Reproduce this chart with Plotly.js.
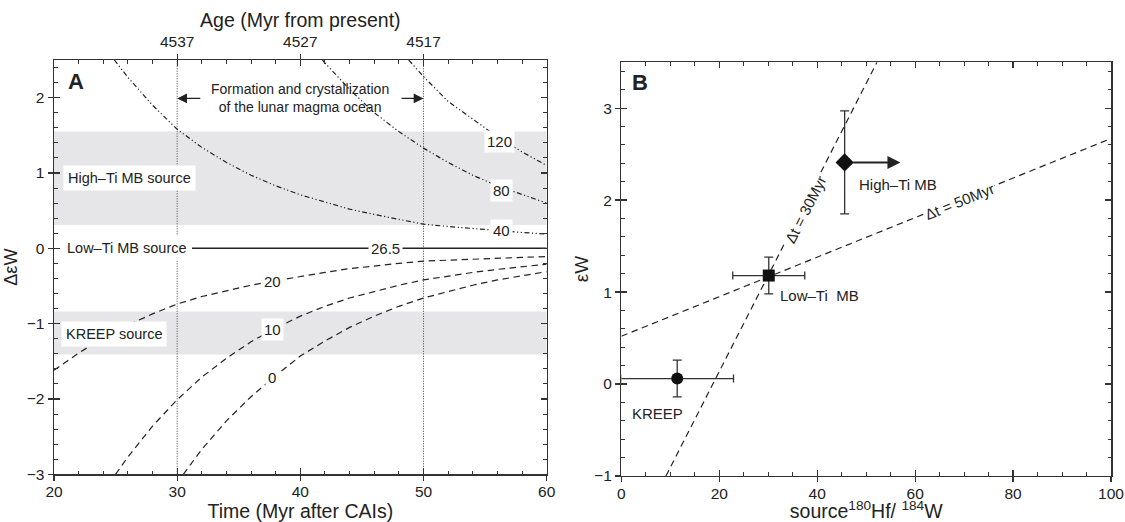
<!DOCTYPE html>
<html>
<head>
<meta charset="utf-8">
<script src="https://cdn.plot.ly/plotly-3.0.1.min.js"></script>
<style>
html,body{margin:0;padding:0;background:#fff;}
#chart{width:1125px;height:522px;}
</style>
</head>
<body>
<div id="chart"></div>
<script>
// ---------------- Panel A data ----------------
// dash-dot-dot curves (source Hf/W = 120, 80, 40)
const curve120T = [48.8, 50, 52, 54, 56, 58, 60];
const curve120Y = [2.50, 2.28, 1.95, 1.72, 1.48, 1.28, 1.10];
const curve80T = [41.8, 42, 44, 46, 48, 50, 52, 54, 56, 58, 60];
const curve80Y = [2.50, 2.46, 2.11, 1.80, 1.55, 1.33, 1.14, 0.97, 0.83, 0.71, 0.60];
const curve40T = [24.9, 26, 28, 30, 32, 34, 36, 38, 40, 42, 44, 46, 48, 50, 52, 54, 56, 58, 60];
const curve40Y = [2.50, 2.27, 1.90, 1.58, 1.34, 1.14, 0.97, 0.83, 0.71, 0.61, 0.52, 0.45, 0.38, 0.32, 0.29, 0.26, 0.23, 0.21, 0.19];
// solid reference line (26.5)
const curve265T = [31.2, 60];
const curve265Y = [0, 0];
// dashed curves (20, 10, 0)
const curve20T = [20, 22, 24, 26, 28, 30, 32, 34, 36, 38, 40, 42, 44, 46, 48, 50, 52, 54, 56, 58, 60];
const curve20Y = [-1.62, -1.39, -1.19, -1.02, -0.87, -0.74, -0.64, -0.56, -0.49, -0.43, -0.37, -0.32, -0.27, -0.23, -0.20, -0.17, -0.155, -0.14, -0.13, -0.12, -0.11];
const curve10T = [25, 26, 28, 30, 32, 34, 36, 38, 40, 42, 44, 46, 48, 50, 52, 54, 56, 58, 60];
const curve10Y = [-3.0, -2.77, -2.36, -2.01, -1.71, -1.46, -1.24, -1.06, -0.90, -0.77, -0.66, -0.57, -0.49, -0.42, -0.37, -0.32, -0.28, -0.24, -0.21];
const curve0T = [30.5, 32, 34, 36, 38, 40, 42, 44, 46, 48, 50, 52, 54, 56, 58, 60];
const curve0Y = [-3.0, -2.67, -2.29, -1.97, -1.69, -1.43, -1.23, -1.05, -0.90, -0.77, -0.66, -0.57, -0.49, -0.42, -0.36, -0.31];

const curveLabelText = ['120', '80', '40', '26.5', '20', '10', '0'];
const curveLabelX = [56.15, 56.35, 56.3, 46.9, 37.7, 37.7, 37.7];
const curveLabelY = [1.42, 0.77, 0.23, 0, -0.44, -1.08, -1.72];

const sourceLabelText = ['High–Ti MB source', 'Low–Ti MB source', 'KREEP source'];
const sourceLabelX = [26.1, 25.95, 24.9];
const sourceLabelY = [0.94, 0, -1.14];

const highTiBand = [0.31, 1.55];
const kreepBand = [-1.41, -0.84];
const magmaOceanBounds = [30, 50];
const magmaArrowTails = [32.0, 48.1];
const magmaArrowY = 1.99;

const ageTickPos = [30, 40, 50];
const ageTickText = ['4537', '4527', '4517'];

// ---------------- Panel B data ----------------
const sampleNames = ['KREEP', 'Low–Ti  MB', 'High–Ti MB'];
const sampleHfW = [11.4, 30.1, 45.6];
const sampleHfWErr = [11.5, 7.35, 0];
const sampleEpsW = [0.06, 1.18, 2.41];
const sampleEpsWErr = [0.20, 0.20, 0.56];
const sampleSymbols = ['circle', 'square', 'diamond'];
const sampleSizes = [12, 12, 14];
const sampleLabelX = [7.3, 40.4, 56.5];
const sampleLabelY = [-0.32, 0.96, 2.17];
const highTiLowerLimitTo = 57.0;

const iso30X = [9.1, 52.2];
const iso30Y = [-1, 3.5];
const iso50X = [0, 100];
const iso50Y = [0.52, 2.67];
const isoLabelText = ['Δt = 30Myr', 'Δt = 50Myr'];
const isoLabelX = [37.6, 69.0];
const isoLabelY = [1.90, 1.99];
const isoLabelAngle = [-63, -22];

// ---------------- build ----------------
const INK = '#222';
const AX = '#333';
const FONT = 'Liberation Sans, Arial, Helvetica, sans-serif';
const ddot = '5px,2.5px,1.2px,2.5px,1.2px,2.5px';
const dash = '6.5px,4.5px';

function line(x, y, dashStyle, width, xa, ya) {
  return {type: 'scatter', mode: 'lines', x: x, y: y, xaxis: xa, yaxis: ya,
    line: {color: INK, width: width, dash: dashStyle}, hoverinfo: 'skip', showlegend: false};
}
function empty(xa, ya) {
  return {type: 'scatter', mode: 'markers', x: [], y: [], xaxis: xa, yaxis: ya, hoverinfo: 'skip', showlegend: false};
}

const traces = [
  empty('x3', 'y'), empty('x4', 'y'), empty('x', 'y3'), empty('x5', 'y2'), empty('x2', 'y4'),
  line(curve120T, curve120Y, ddot, 1.2, 'x', 'y'),
  line(curve80T, curve80Y, ddot, 1.2, 'x', 'y'),
  line(curve40T, curve40Y, ddot, 1.2, 'x', 'y'),
  line(curve265T, curve265Y, 'solid', 1.5, 'x', 'y'),
  line(curve20T, curve20Y, dash, 1.2, 'x', 'y'),
  line(curve10T, curve10Y, dash, 1.2, 'x', 'y'),
  line(curve0T, curve0Y, dash, 1.2, 'x', 'y'),
  line(iso30X, iso30Y, dash, 1.2, 'x2', 'y2'),
  line(iso50X, iso50Y, dash, 1.2, 'x2', 'y2'),
  {
    type: 'scatter', mode: 'markers', x: sampleHfW, y: sampleEpsW, xaxis: 'x2', yaxis: 'y2',
    marker: {symbol: sampleSymbols, size: sampleSizes, color: '#111', opacity: 1, line: {width: 0}},
    error_x: {type: 'data', array: sampleHfWErr, visible: true, color: AX, thickness: 1.3, width: 4},
    error_y: {type: 'data', array: sampleEpsWErr, visible: true, color: AX, thickness: 1.3, width: 4.5},
    hoverinfo: 'skip', showlegend: false, opacity: 1
  }
];

const shapes = [
  {type: 'rect', xref: 'x', yref: 'y', x0: 20, x1: 60, y0: highTiBand[0], y1: highTiBand[1], fillcolor: '#e6e6e8', line: {width: 0}, layer: 'below'},
  {type: 'rect', xref: 'x', yref: 'y', x0: 20, x1: 60, y0: kreepBand[0], y1: kreepBand[1], fillcolor: '#e6e6e8', line: {width: 0}, layer: 'below'}
];
magmaOceanBounds.forEach(v => shapes.push({type: 'line', xref: 'x', yref: 'y', x0: v, x1: v, y0: -3, y1: 2.5,
  line: {color: '#444', width: 1, dash: '1px,1.5px'}, layer: 'below'}));

const annotations = [];
curveLabelText.forEach((t, i) => annotations.push({xref: 'x', yref: 'y', x: curveLabelX[i], y: curveLabelY[i], text: t,
  showarrow: false, bgcolor: '#fff', borderpad: 2, font: {size: 15, color: INK, family: FONT}}));
sourceLabelText.forEach((t, i) => annotations.push({xref: 'x', yref: 'y', x: sourceLabelX[i], y: sourceLabelY[i], text: t,
  showarrow: false, bgcolor: '#fff', borderpad: 4, font: {size: 14.5, color: INK, family: FONT}}));
annotations.push({xref: 'x', yref: 'y', x: 40, y: 2.0, text: 'Formation and crystallization<br>of the lunar magma ocean',
  showarrow: false, font: {size: 14, color: INK, family: FONT}});
magmaOceanBounds.forEach((v, i) => annotations.push({xref: 'x', yref: 'y', x: v, y: magmaArrowY, axref: 'x', ayref: 'y',
  ax: magmaArrowTails[i], ay: magmaArrowY, text: '', showarrow: true, arrowhead: 2, arrowsize: 1.4, arrowwidth: 1.4,
  arrowcolor: INK, standoff: 0}));
annotations.push({xref: 'x', yref: 'y', x: 21.75, y: 2.21, text: '<b>A</b>', showarrow: false, font: {size: 22, color: INK, family: FONT}});
annotations.push({xref: 'x2', yref: 'y2', x: 3.9, y: 3.28, text: '<b>B</b>', showarrow: false, font: {size: 22, color: INK, family: FONT}});
sampleNames.forEach((t, i) => annotations.push({xref: 'x2', yref: 'y2', x: sampleLabelX[i], y: sampleLabelY[i], text: t,
  showarrow: false, font: {size: 15, color: INK, family: FONT}}));
isoLabelText.forEach((t, i) => annotations.push({xref: 'x2', yref: 'y2', x: isoLabelX[i], y: isoLabelY[i], text: t,
  textangle: isoLabelAngle[i], showarrow: false, bgcolor: '#fff', borderpad: 1, font: {size: 15, color: INK, family: FONT}}));
annotations.push({xref: 'x2', yref: 'y2', x: highTiLowerLimitTo, y: sampleEpsW[2], axref: 'x2', ayref: 'y2',
  ax: sampleHfW[2], ay: sampleEpsW[2], text: '', showarrow: true, arrowhead: 2, arrowsize: 1.3, arrowwidth: 2,
  arrowcolor: INK, standoff: 0, startstandoff: 7});

const dA = [0, 0.4661], dB = [0.5368, 1];
const yDomA = [0.0065, 1], yDomB = [0.0024, 0.9947];

const baseAx = {showgrid: false, zeroline: false, showline: true, linecolor: AX, linewidth: 1.5,
  tickcolor: AX, tickwidth: 1.3, tickfont: {size: 15.5, color: INK, family: FONT}};
function mainAx(extra) { return Object.assign({}, baseAx, {ticks: 'outside', ticklen: 5}, extra); }
function innerAx(extra) { return Object.assign({}, baseAx, {ticks: 'inside', ticklen: 6, mirror: 'ticks', showticklabels: false}, extra); }

const layout = {
  width: 1125, height: 522,
  margin: {l: 53.5, r: 13.7, t: 60, b: 45},
  paper_bgcolor: '#fff', plot_bgcolor: '#fff',
  font: {family: FONT, size: 15, color: INK},
  showlegend: false,
  xaxis: mainAx({domain: dA, anchor: 'y', range: [20, 60], tickmode: 'linear', tick0: 20, dtick: 10, ticklabelstandoff: -2,
    title: {text: 'Time (Myr after CAIs)', font: {size: 19.5, color: INK}, standoff: 3}}),
  xaxis3: mainAx({overlaying: 'x', anchor: 'y', side: 'top', range: [20, 60], tickmode: 'array', tickvals: ageTickPos, ticktext: ageTickText,
    title: {text: 'Age (Myr from present)', font: {size: 19.5, color: INK}, standoff: 0}}),
  xaxis4: innerAx({overlaying: 'x', anchor: 'y', range: [20, 60], tickmode: 'linear', tick0: 20, dtick: 10,
    minor: {tickmode: 'linear', tick0: 20, dtick: 2, ticks: 'inside', ticklen: 3.5, tickcolor: AX, tickwidth: 1}}),
  yaxis: mainAx({domain: yDomA, anchor: 'x', range: [-3, 2.5], tickmode: 'linear', tick0: 0, dtick: 1,
    title: {text: 'ΔεW', font: {size: 18, color: INK}, standoff: 4}}),
  yaxis3: innerAx({overlaying: 'y', anchor: 'x', range: [-3, 2.5], tickmode: 'linear', tick0: 0, dtick: 1,
    minor: {tickmode: 'linear', tick0: 0, dtick: 0.2, ticks: 'inside', ticklen: 3.5, tickcolor: AX, tickwidth: 1}}),
  xaxis2: mainAx({domain: dB, anchor: 'y2', range: [0, 100], tickmode: 'linear', tick0: 0, dtick: 20, ticklabelstandoff: -2,
    title: {text: 'source<sup>180</sup>Hf/ <sup>184</sup>W', font: {size: 19.5, color: INK}, standoff: 5}}),
  xaxis5: innerAx({overlaying: 'x2', anchor: 'y2', range: [0, 100], tickmode: 'linear', tick0: 0, dtick: 20,
    minor: {tickmode: 'linear', tick0: 0, dtick: 5, ticks: 'inside', ticklen: 3.5, tickcolor: AX, tickwidth: 1}}),
  yaxis2: mainAx({domain: yDomB, anchor: 'x2', range: [-1, 3.5], tickmode: 'linear', tick0: 0, dtick: 1,
    title: {text: 'εW', font: {size: 19, color: INK}, standoff: 0}}),
  yaxis4: innerAx({overlaying: 'y2', anchor: 'x2', range: [-1, 3.5], tickmode: 'linear', tick0: 0, dtick: 1,
    minor: {tickmode: 'linear', tick0: 0, dtick: 0.2, ticks: 'inside', ticklen: 3.5, tickcolor: AX, tickwidth: 1}}),
  shapes: shapes,
  annotations: annotations
};

Plotly.newPlot('chart', traces, layout, {staticPlot: true, displayModeBar: false});
</script>
</body>
</html>
